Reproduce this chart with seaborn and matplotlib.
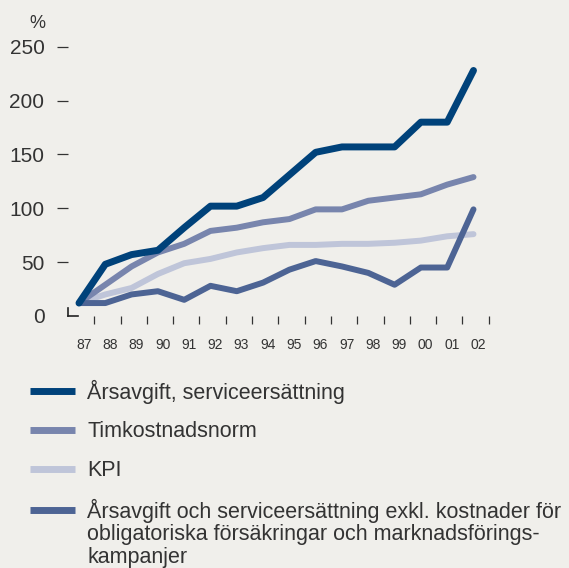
import matplotlib
matplotlib.use("Agg")
import matplotlib.pyplot as plt
import seaborn as sns
import pandas as pd

# Data
years = ["87", "88", "89", "90", "91", "92", "93", "94", "95", "96", "97", "98", "99", "00", "01", "02"]
arsavgift = [12, 48, 57, 61, 82, 102, 102, 110, 131, 152, 157, 157, 157, 180, 180, 228]
timkostnad = [12, 29, 46, 59, 67, 79, 82, 87, 90, 99, 99, 107, 110, 113, 122, 129]
kpi = [12, 20, 26, 39, 49, 53, 59, 63, 66, 66, 67, 67, 68, 70, 74, 76]
exkl = [12, 12, 20, 23, 15, 28, 23, 31, 43, 51, 46, 40, 29, 45, 45, 99]
y_ticks = [0, 50, 100, 150, 200, 250]

labels = [
    "Årsavgift, serviceersättning",
    "Timkostnadsnorm",
    "KPI",
    "Årsavgift och serviceersättning exkl. kostnader för",
]
label_rest = ["obligatoriska försäkringar och marknadsförings-", "kampanjer"]
colors = ["#00427a", "#7885ad", "#bfc5d9", "#4d6494"]
widths = [5.0, 4.3, 4.3, 4.3]
series = [arsavgift, timkostnad, kpi, exkl]

bg = "#f0efeb"
text_col = "#333333"
leg_size = 15.5

sns.set_theme(style="white")
plt.rcParams["font.family"] = ["Liberation Sans Narrow", "Liberation Sans", "DejaVu Sans"]

fig = plt.figure(figsize=(5.69, 5.68), dpi=100, facecolor=bg)
ax = fig.add_axes([0.1195, 0.4437, 0.745, 0.4929])
ax.set_facecolor(bg)

x = list(range(len(years)))
handles = {}
# draw order: KPI, Timkostnad, exkl, Årsavgift on top
for i in [2, 1, 3, 0]:
    df = pd.DataFrame({"x": x, "v": series[i]})
    sns.lineplot(data=df, x="x", y="v", ax=ax, color=colors[i], linewidth=widths[i],
                 solid_capstyle="round", solid_joinstyle="round", zorder=3 + (i == 0))
    handles[i] = ax.lines[-1]

ax.set_xlim(-0.418, 15.7)
ax.set_ylim(0, 260)
ax.set_xlabel("")
ax.set_ylabel("")

for s in ["top", "right"]:
    ax.spines[s].set_visible(False)
ax.spines["left"].set_bounds(0, 7)
ax.spines["bottom"].set_bounds(-0.418, -0.04)
for s in ["left", "bottom"]:
    ax.spines[s].set_color("#222222")
    ax.spines[s].set_linewidth(1.2)

ax.set_yticks(y_ticks)
ax.set_yticklabels([str(t) for t in y_ticks])
ax.tick_params(axis="y", which="major", direction="out", length=8, width=0.9,
               color="#333333", pad=9, labelsize=15, labelcolor=text_col, left=True)
ax.yaxis.get_major_ticks()[0].tick1line.set_visible(False)

ax.set_xticks([i + 0.18 for i in x])
ax.set_xticklabels(years)
ax.set_xticks([i + 0.58 for i in x], minor=True)
ax.tick_params(axis="x", which="major", length=0, pad=16, labelsize=10, labelcolor=text_col)
ax.tick_params(axis="x", which="minor", direction="out", length=6, width=0.9,
               color="#333333", bottom=True)

fig.text(37 / 569, 1 - 23 / 568, "%", ha="center", va="center", fontsize=13, color=text_col)

leg = fig.legend([handles[i] for i in range(4)], labels, loc="upper left",
                 bbox_to_anchor=(0.038, 1 - 371 / 568), frameon=False, fontsize=leg_size,
                 handlelength=2.1, handletextpad=0.55, labelspacing=0.82, borderaxespad=0)
for t in leg.get_texts():
    t.set_color(text_col)
for h in leg.get_lines():
    h.set_linewidth(5)
    h.set_solid_capstyle("butt")

# continuation lines of the last legend entry, placed under its first line
fig.canvas.draw()
renderer = fig.canvas.get_renderer()
last = leg.get_texts()[3]
bb = last.get_window_extent(renderer)
_, _, desc = renderer.get_text_width_height_descent("lp", last.get_fontproperties(), ismath=False)
baseline = bb.y0 + desc
W, H = fig.bbox.width, fig.bbox.height
for k, line in enumerate(label_rest):
    fig.text(bb.x0 / W, (baseline - 22.5 * (k + 1)) / H, line, ha="left", va="baseline",
             fontsize=leg_size, color=text_col)

fig.savefig("out.png", dpi=100, facecolor=bg)
